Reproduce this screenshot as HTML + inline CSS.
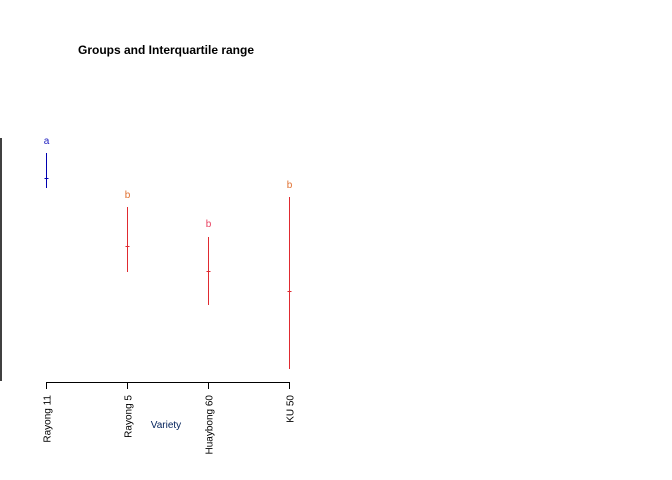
<!DOCTYPE html>
<html><head><meta charset="utf-8"><style>
body{margin:0;background:#fff;}
svg{display:block;font-family:"Liberation Sans",Arial,sans-serif;}
</style></head><body>
<svg id="chart" width="672" height="480">
<text x="166" y="54" text-anchor="middle" font-size="12" font-weight="bold">Groups and Interquartile range</text>
<line x1="1" y1="138" x2="1" y2="381" stroke="#000" stroke-width="1.5"/>
<line x1="46" y1="382.5" x2="290" y2="382.5" stroke="#000" stroke-width="1"/>
<text x="166" y="428" text-anchor="middle" font-size="10" fill="#00205a">Variety</text>
<g id="marks"></g>
</svg>
<script>
const categories = ["Rayong 11","Rayong 5","Huaybong 60","KU 50"];
const q1 = [97, 55, 38.5, 6.5];
const q3 = [114.5, 87.5, 72.5, 92.5];
const medians = [102, 68, 55.5, 45.5];
const groups = ["a","b","b","b"];
const labelPos = [121, 94, 79.5, 99];
const colors = ["#0000b0","#e02a30","#e02a30","#e02a30"];
const labelColors = ["#2020c0","#e07030","#e84060","#e07030"];

function xs(i){ return 46.5 + i*81; }
function ys(v){ return 382 - v*2; }
const g = document.getElementById('marks');
const NS = "http://www.w3.org/2000/svg";
function mk(t, attrs){ const e=document.createElementNS(NS,t); for(const k in attrs) e.setAttribute(k,attrs[k]); g.appendChild(e); return e; }
categories.forEach((c,i)=>{
  const x = xs(i);
  const r = mk('line',{x1:x,x2:x,y1:ys(q3[i]),y2:ys(q1[i]),stroke:colors[i],'stroke-width':1});
  
  
  const m = mk('line',{x1:x-2,x2:x+2,y1:ys(medians[i])+0.5,y2:ys(medians[i])+0.5,stroke:colors[i],'stroke-width':1});
  
  
  const l = mk('text',{x:x,y:ys(labelPos[i])+4,'text-anchor':'middle','font-size':10,fill:labelColors[i]});
  l.textContent = groups[i];
  
  
  const t = mk('line',{x1:x,x2:x,y1:382,y2:389,stroke:'#000','stroke-width':1});
  
  
  const tl = mk('text',{x:0,y:0,'text-anchor':'end','font-size':10,transform:`translate(${x+4},395) rotate(-90)`});
  tl.textContent = c;
  
  
});
</script>
</body></html>
